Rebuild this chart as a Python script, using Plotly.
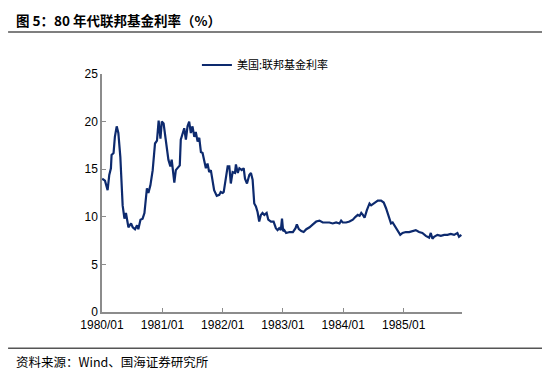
import plotly.graph_objects as go

dates = [
    "1980-01-02", "1980-01-19", "1980-02-04", "1980-02-14", "1980-02-24", "1980-02-28",
    "1980-03-11", "1980-03-19", "1980-03-30", "1980-04-09", "1980-04-21", "1980-04-29",
    "1980-05-05", "1980-05-16", "1980-05-25", "1980-06-09", "1980-06-25", "1980-07-05",
    "1980-07-19", "1980-07-31", "1980-08-08", "1980-08-21", "1980-09-03", "1980-09-14",
    "1980-09-29", "1980-10-08", "1980-10-20", "1980-11-03", "1980-11-17", "1980-11-29",
    "1980-12-09", "1980-12-20", "1980-12-28",
    "1981-01-08", "1981-01-16", "1981-01-22", "1981-02-06", "1981-02-18", "1981-02-26",
    "1981-03-04", "1981-03-14", "1981-03-23", "1981-04-07", "1981-04-16", "1981-04-22",
    "1981-05-02", "1981-05-13", "1981-05-23", "1981-06-02", "1981-06-12", "1981-06-22",
    "1981-07-02", "1981-07-13", "1981-07-22", "1981-08-02", "1981-08-12", "1981-08-22",
    "1981-09-01", "1981-09-11", "1981-09-21", "1981-10-01", "1981-10-11", "1981-10-21",
    "1981-10-31", "1981-11-10", "1981-11-26", "1981-12-11", "1981-12-20",
    "1982-01-01", "1982-01-07", "1982-01-15", "1982-01-21", "1982-01-31", "1982-02-10",
    "1982-02-19", "1982-03-02", "1982-03-16", "1982-03-22", "1982-04-02", "1982-04-12",
    "1982-04-26", "1982-05-08", "1982-05-16", "1982-05-28", "1982-06-11", "1982-06-21",
    "1982-07-01", "1982-07-11", "1982-07-21", "1982-07-31", "1982-08-10", "1982-08-20",
    "1982-08-30", "1982-09-10", "1982-09-24", "1982-10-04", "1982-10-20", "1982-11-05",
    "1982-11-19", "1982-11-29", "1982-12-09", "1982-12-19", "1982-12-26",
    "1983-01-02", "1983-01-09", "1983-01-20", "1983-02-10", "1983-03-02", "1983-03-18",
    "1983-03-26", "1983-04-07", "1983-04-22", "1983-05-06", "1983-05-22", "1983-06-11",
    "1983-07-01", "1983-07-21", "1983-08-10", "1983-08-30", "1983-09-19", "1983-10-09",
    "1983-10-29", "1983-11-19", "1983-12-09", "1983-12-19", "1983-12-29",
    "1984-01-18", "1984-02-08", "1984-02-28", "1984-03-15", "1984-03-29", "1984-04-09",
    "1984-04-19", "1984-04-29", "1984-05-09", "1984-05-23", "1984-05-29", "1984-06-04",
    "1984-06-08", "1984-06-18", "1984-07-08", "1984-07-28", "1984-08-17", "1984-09-02",
    "1984-09-16", "1984-09-25", "1984-10-06", "1984-10-16", "1984-10-26", "1984-11-05",
    "1984-11-15", "1984-11-25", "1984-12-11", "1984-12-25",
    "1985-01-14", "1985-02-03", "1985-02-23", "1985-03-15", "1985-04-04", "1985-04-24",
    "1985-05-15", "1985-06-04", "1985-06-14", "1985-06-24", "1985-07-04", "1985-07-24",
    "1985-08-14", "1985-09-03", "1985-09-23", "1985-10-13", "1985-11-02", "1985-11-22",
    "1985-12-02", "1985-12-16",
]

fed_funds = [
    14.0, 13.8, 12.8, 14.4, 15.1, 16.5,
    16.7, 18.4, 19.5, 18.8, 16.3, 13.9,
    11.2, 9.8, 10.4, 8.9, 9.3, 8.9,
    8.7, 9.1, 8.7, 9.7, 9.8, 10.4,
    13.0, 12.5, 13.3, 14.9, 17.7, 18.0,
    20.1, 18.2, 20.0,
    19.8, 18.8, 17.5, 16.0, 15.3, 16.0,
    15.1, 13.6, 14.9, 15.3, 15.4, 18.1,
    18.6, 19.3, 18.1, 19.5, 20.0, 18.8,
    19.5, 18.4, 18.9, 17.9, 18.3, 16.8,
    16.7, 16.0, 15.1, 15.6, 14.7, 14.9,
    13.9, 12.8, 12.2, 12.3, 12.6,
    12.5, 12.6, 13.7, 14.2, 15.3, 15.3,
    13.5, 14.7, 14.6, 15.5, 14.6, 15.1,
    14.9, 15.1, 14.0, 13.5, 14.4, 14.6,
    13.9, 11.4, 11.1, 10.5, 9.5, 10.2,
    10.4, 10.2, 10.4, 9.7, 9.5, 9.5,
    8.8, 8.6, 8.8, 8.6, 9.8,
    8.5, 8.6, 8.3, 8.4, 8.4, 8.8,
    9.2, 8.7, 8.5, 8.4, 8.7, 8.9,
    9.2, 9.5, 9.6, 9.4, 9.4, 9.4,
    9.3, 9.4, 9.3, 9.6, 9.4,
    9.4, 9.5, 9.7, 10.0, 10.2, 10.1,
    10.4, 10.2, 9.9, 10.7, 10.9, 11.2,
    11.4, 11.2, 11.5, 11.7, 11.7, 11.5,
    10.9, 10.4, 9.7, 9.3, 9.4, 9.1,
    8.8, 8.6, 8.1, 8.3,
    8.4, 8.4, 8.5, 8.6, 8.4, 8.3,
    8.0, 7.8, 8.3, 7.7, 7.9, 8.1,
    8.0, 8.1, 8.1, 8.2, 8.1, 8.3,
    7.9, 8.1,
]

series_name = "美国:联邦基金利率"
title_text = "图 5：80 年代联邦基金利率（%）"
source_text = "资料来源：Wind、国海证券研究所"

# page offset from the default body margin of the html page
OFF = 8
W, H = 550 - OFF, 381 - OFF
# plot area in page pixels: x 102..462.3, y 74..311.7
L = 102 - OFF
R = 550 - 462.3
T = 74 - OFF
B = 381 - 311.7
pw, ph = W - L - R, H - T - B


def px_x(x):
    return (x - OFF - L) / pw


def px_y(y):
    return (H - B - (y - OFF)) / ph


fig = go.Figure()
fig.add_trace(go.Scatter(
    x=dates, y=fed_funds, mode="lines", name=series_name,
    line=dict(color="#0d2a6e", width=2.2),
))

cjk = "Noto Sans CJK SC"
fig.update_layout(
    width=W, height=H,
    margin=dict(l=L, r=R, t=T, b=B, autoexpand=False),
    paper_bgcolor="white", plot_bgcolor="white",
    font=dict(family="Liberation Sans, Arial", size=12, color="#000000"),
    showlegend=True,
    legend=dict(
        x=px_x(197), y=px_y(65), xanchor="left", yanchor="middle",
        orientation="h", bgcolor="rgba(0,0,0,0)",
        font=dict(family=cjk, size=11, color="#000000"),
    ),
    xaxis=dict(
        type="date", range=["1980-01-01", "1985-12-20"],
        tick0="1980-01-01", dtick="M12", tickformat="%Y/%m",
        showgrid=False, zeroline=False,
        showline=True, linecolor="#8c8c8c", linewidth=1.5,
        ticks="inside", ticklen=4, tickcolor="#8c8c8c",
        ticklabelstandoff=1,
        tickfont=dict(family="Liberation Sans, Arial", size=12, color="#000000"),
    ),
    yaxis=dict(
        range=[0, 25], dtick=5, tick0=0,
        showgrid=False, zeroline=False,
        showline=True, linecolor="#8c8c8c", linewidth=1.5,
        ticks="inside", ticklen=4, tickcolor="#8c8c8c",
        tickfont=dict(family="Liberation Sans, Arial", size=12, color="#000000"),
    ),
    shapes=[
        dict(type="line", xref="paper", yref="paper",
             x0=px_x(OFF), x1=px_x(545), y0=px_y(32), y1=px_y(32),
             line=dict(color="#555555", width=1.5)),
        dict(type="line", xref="paper", yref="paper",
             x0=px_x(OFF), x1=px_x(545), y0=px_y(348), y1=px_y(348),
             line=dict(color="#555555", width=1.5)),
    ],
    annotations=[
        dict(text="<b>" + title_text + "</b>", xref="paper", yref="paper",
             x=px_x(14), y=px_y(OFF), xanchor="left", yanchor="top",
             showarrow=False, font=dict(family=cjk, size=13.5, color="#000000")),
        dict(text=source_text, xref="paper", yref="paper",
             x=px_x(14), y=px_y(361), xanchor="left", yanchor="middle",
             showarrow=False, font=dict(family=cjk, size=12.5, color="#000000")),
    ],
)

fig.write_html("out.html")
